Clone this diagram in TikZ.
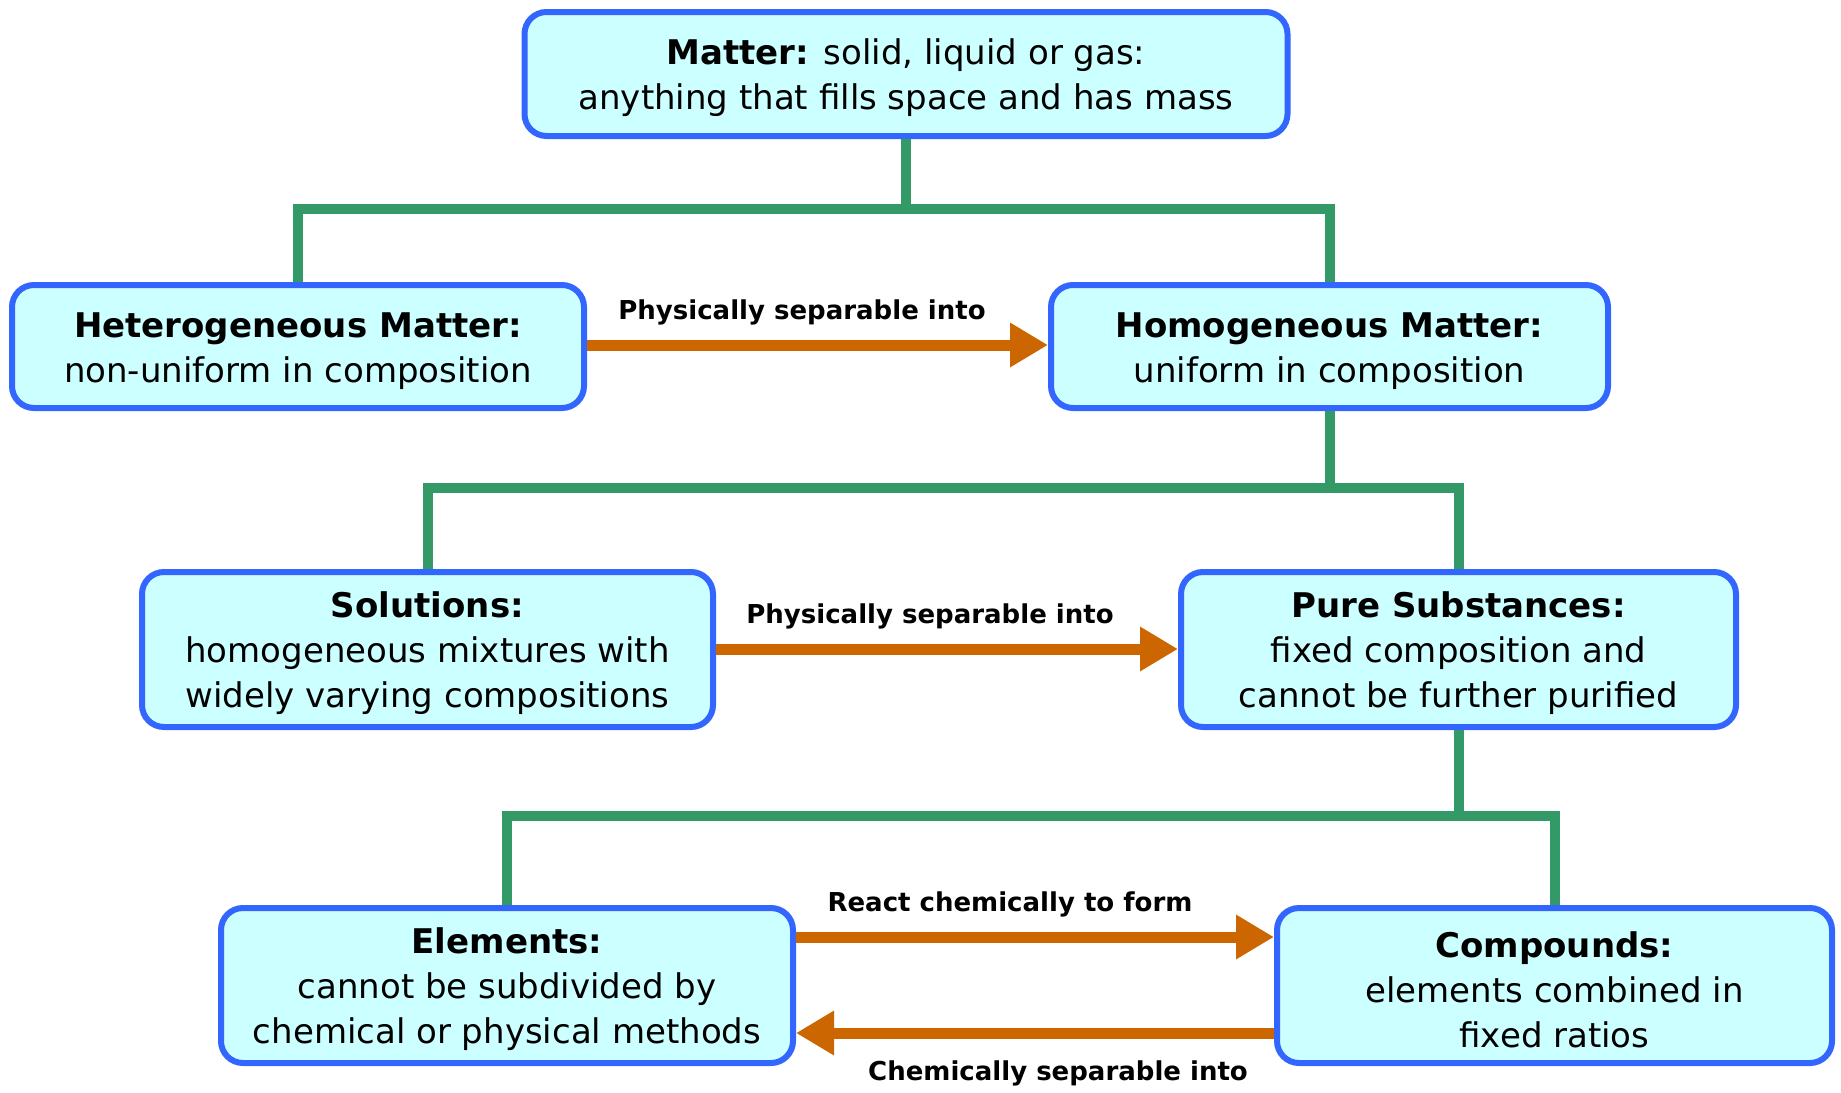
\documentclass[tikz,border=0pt]{standalone}
\usepackage{fontspec}
\setmainfont{DejaVu Sans}
\usetikzlibrary{arrows.meta}
\definecolor{boxfill}{HTML}{CCFFFF}
\definecolor{boxline}{HTML}{3366FF}
\definecolor{treegreen}{HTML}{339966}
\definecolor{flowor}{HTML}{CC6600}
% strut that lowers the text block a little inside each box
\newcommand{\toplift}{\rule{0pt}{16.8pt}}

\begin{document}
\begin{tikzpicture}[x=0.5pt,y=-0.5pt,
  concept/.style={draw=boxline, fill=boxfill, line width=3pt, rounded corners=11pt,
    align=center, inner sep=0pt, font=\fontsize{17}{22.5}\selectfont},
  tree/.style={draw=treegreen, line width=5pt},
  flow/.style={draw=flowor, line width=5.5pt, -{Triangle[length=19pt,width=21pt]}},
  lab/.style={font=\fontsize{13}{15}\selectfont\bfseries, inner sep=0pt}]
\useasboundingbox (0,0) rectangle (1841,1092);

% concept boxes
\node[concept, minimum width=381.5pt, minimum height=62pt] (matter) at (906,74)
  {\toplift\textbf{Matter:} solid, liquid or gas:\\anything that fills space and has mass};
\node[concept, minimum width=286pt, minimum height=61.5pt] (hetero) at (298,346.5)
  {\toplift\textbf{Heterogeneous Matter:}\\non-uniform in composition};
\node[concept, minimum width=278.5pt, minimum height=61.5pt] (homo) at (1329.5,346.5)
  {\toplift\textbf{Homogeneous Matter:}\\uniform in composition};
\node[concept, minimum width=285.5pt, minimum height=77.5pt] (solutions) at (427.5,649.5)
  {\toplift\textbf{Solutions:}\\homogeneous mixtures with\\widely varying compositions};
\node[concept, minimum width=277.5pt, minimum height=77.5pt] (pure) at (1458.5,649.5)
  {\toplift\textbf{Pure Substances:}\\fixed composition and\\cannot be further purified};
\node[concept, minimum width=286pt, minimum height=77.5pt] (elements) at (507,985.5)
  {\toplift\textbf{Elements:}\\cannot be subdivided by\\chemical or physical methods};
\node[concept, minimum width=277.5pt, minimum height=77.5pt] (compounds) at (1554.5,985.5)
  {\toplift\textbf{Compounds:}\\elements combined in\\fixed ratios};

% classification tree
\coordinate (bus1) at (0,209);
\coordinate (bus2) at (0,488);
\coordinate (bus3) at (0,816);
\draw[tree] (matter.south) -- (matter.south |- bus1);
\draw[tree] (hetero.north) -- (hetero.north |- bus1) -- (homo.north |- bus1) -- (homo.north);
\draw[tree] (homo.south) -- (homo.south |- bus2);
\draw[tree] (solutions.north) -- (solutions.north |- bus2) -- (pure.north |- bus2) -- (pure.north);
\draw[tree] (pure.south) -- (pure.south |- bus3);
\draw[tree] (elements.north) -- (elements.north |- bus3) -- (compounds.north |- bus3) -- (compounds.north);

% separation and reaction arrows
\coordinate (r1) at (0,345);
\coordinate (r2) at (0,649);
\coordinate (r3) at (0,937);
\coordinate (r4) at (0,1033);
\draw[flow] (hetero.east |- r1) -- (homo.west |- r1);
\draw[flow] (solutions.east |- r2) -- (pure.west |- r2);
\draw[flow] (elements.east |- r3) -- (compounds.west |- r3);
\draw[flow] (compounds.west |- r4) -- (elements.east |- r4);

% arrow labels
\node[lab] (l1) at (802,312) {Physically separable into};
\node[lab] (l2) at (930,616) {Physically separable into};
\node[lab] (l3) at (1010,904) {React chemically to form};
\node[lab] (l4) at (1058,1073) {Chemically separable into};
\end{tikzpicture}
\end{document}
